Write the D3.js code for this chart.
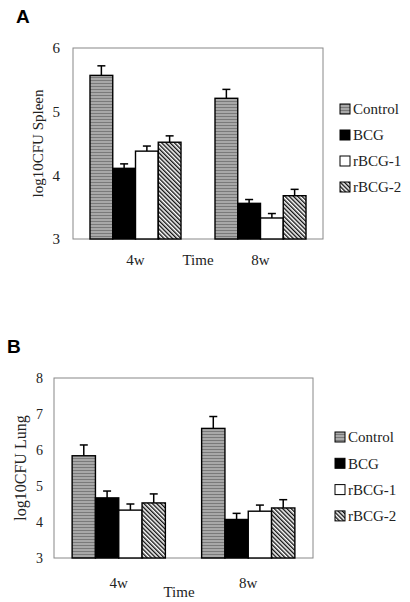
<!DOCTYPE html>
<html><head><meta charset="utf-8">
<script src="https://cdn.jsdelivr.net/npm/d3@7"></script>
<style>html,body{margin:0;padding:0;background:#fff;}svg{display:block;} .serif{font-family:"Liberation Serif","Times New Roman",serif !important;}</style>
</head><body>
<svg id="chart" width="410" height="602"></svg>
<script>
const groups = ["4w", "8w"];
const seriesNames = ["Control", "BCG", "rBCG-1", "rBCG-2"];
const spleenMeans = [[5.57, 4.11, 4.38, 4.52], [5.21, 3.56, 3.33, 3.68]];
const spleenErrors = [[0.15, 0.07, 0.08, 0.10], [0.14, 0.06, 0.07, 0.10]];
const spleenTicks = [3, 4, 5, 6];
const lungMeans = [[5.84, 4.67, 4.33, 4.53], [6.60, 4.07, 4.30, 4.39]];
const lungErrors = [[0.30, 0.19, 0.17, 0.25], [0.33, 0.17, 0.17, 0.23]];
const lungTicks = [3, 4, 5, 6, 7, 8];

const svg = d3.select("#chart");
const defs = svg.append("defs");
const pc = defs.append("pattern").attr("id","pControl").attr("patternUnits","userSpaceOnUse").attr("width",4).attr("height",3);
pc.append("rect").attr("width",4).attr("height",3).attr("fill","#a8a8a8");
pc.append("rect").attr("y",2).attr("width",4).attr("height",1).attr("fill","#7a7a7a");
const ph = defs.append("pattern").attr("id","pHatch").attr("patternUnits","userSpaceOnUse").attr("width",3).attr("height",3).attr("patternTransform","rotate(-45)");
ph.append("rect").attr("width",3).attr("height",3).attr("fill","#fff");
ph.append("rect").attr("width",1.4).attr("height",3).attr("fill","#111");

const fills = ["url(#pControl)", "#000", "#fff", "url(#pHatch)"];

function panel(cfg) {
  const g = svg.append("g");
  g.append("text").attr("x", cfg.letterX).attr("y", cfg.letterY)
    .style("font-family","'Liberation Sans',Arial,sans-serif").attr("font-weight","bold")
    .attr("font-size",19).text(cfg.letter);

  const x0 = d3.scaleBand().domain(groups).range([cfg.left, cfg.right])
    .paddingInner(cfg.pad).paddingOuter(cfg.pad/2);
  const x1 = d3.scaleBand().domain(seriesNames).range([0, x0.bandwidth()]);
  const y = d3.scaleLinear().domain([cfg.ticks[0], cfg.ticks[cfg.ticks.length-1]]).range([cfg.bottom, cfg.top]);

  g.append("rect").attr("x", cfg.left).attr("y", cfg.top)
    .attr("width", cfg.right-cfg.left).attr("height", cfg.bottom-cfg.top)
    .attr("fill","none").attr("stroke","#888").attr("stroke-width",1);

  const ax = g.append("g").attr("transform",`translate(${cfg.left},0)`)
    .call(d3.axisLeft(y).tickValues(cfg.ticks).tickSize(0).tickPadding(cfg.tickPad).tickFormat(d3.format("d")));
  ax.attr("font-family",null);
  ax.select(".domain").remove();
  ax.selectAll("text").attr("class","serif").attr("font-size",cfg.tickFont).attr("fill","#222");

  groups.forEach((grp, gi) => {
    const gg = g.append("g").attr("transform",`translate(${x0(grp)},0)`);
    seriesNames.forEach((s, si) => {
      const v = cfg.means[gi][si], e = cfg.errors[gi][si];
      const bx = x1(s), bw = x1.bandwidth();
      const cx = bx + bw/2;
      gg.append("line").attr("x1",cx).attr("x2",cx).attr("y1",y(v)).attr("y2",y(v+e))
        .attr("stroke","#000").attr("stroke-width",1.5);
      gg.append("line").attr("x1",cx-4).attr("x2",cx+4).attr("y1",y(v+e)).attr("y2",y(v+e))
        .attr("stroke","#000").attr("stroke-width",1.5);
      gg.append("rect").attr("x",bx).attr("y",y(v)).attr("width",bw).attr("height",y(cfg.ticks[0])-y(v))
        .attr("fill",fills[si]).attr("stroke","#000").attr("stroke-width",1.4);
    });
    g.append("text").attr("class","serif").attr("x", x0(grp)+x0.bandwidth()/2).attr("y", cfg.groupLabelY)
      .attr("text-anchor","middle").attr("font-size",15).attr("fill","#222").text(grp);
  });
  g.append("text").attr("class","serif").attr("x", cfg.timeX).attr("y", cfg.timeY).attr("text-anchor","middle")
    .attr("font-size",15).attr("fill","#222").text("Time");
  g.append("text").attr("class","serif").attr("transform",`translate(${cfg.ylabX},${(cfg.top+cfg.bottom)/2}) rotate(-90)`)
    .attr("text-anchor","middle").attr("font-size",cfg.ylabFont).attr("fill","#222").text(cfg.ylab);

  seriesNames.forEach((s, si) => {
    const ly = cfg.legY + si*cfg.legStep;
    g.append("rect").attr("x", cfg.legX).attr("y", ly-5).attr("width",10).attr("height",10)
      .attr("fill",fills[si]).attr("stroke","#000").attr("stroke-width",1);
    g.append("text").attr("class","serif").attr("x", cfg.legX+13).attr("y", ly).attr("dy","0.35em")
      .attr("font-size",15).attr("fill","#222").text(s);
  });
}

panel({letter:"A", letterX:16, letterY:23, left:73, right:323, top:48, bottom:239, pad:0.272,
  ticks:spleenTicks, means:spleenMeans, errors:spleenErrors, tickPad:13, tickFont:15,
  groupLabelY:265, timeX:198, timeY:265, ylab:"log10CFU Spleen", ylabX:43, ylabFont:15,
  legX:340, legY:109, legStep:26});
panel({letter:"B", letterX:7, letterY:353, left:54, right:313, top:378, bottom:558, pad:0.28,
  ticks:lungTicks, means:lungMeans, errors:lungErrors, tickPad:11, tickFont:14,
  groupLabelY:588, timeX:179, timeY:597, ylab:"log10CFU Lung", ylabX:26, ylabFont:16,
  legX:335, legY:437, legStep:26.3});
</script>
</body></html>
